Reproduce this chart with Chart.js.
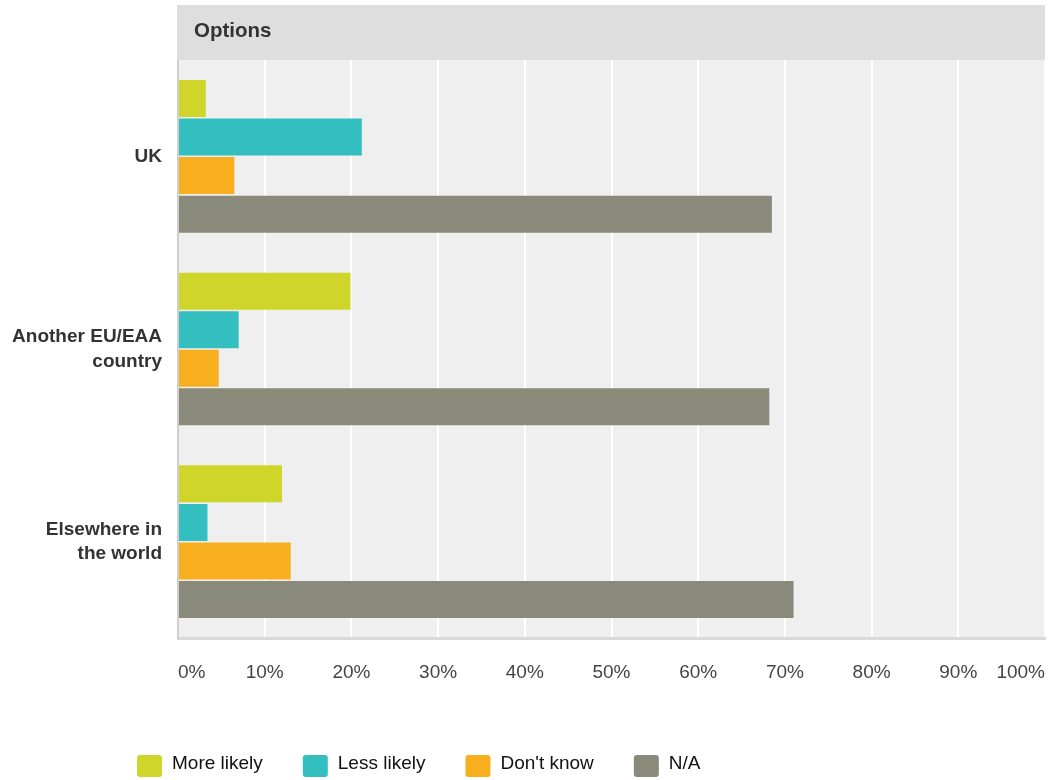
<!DOCTYPE html>
<html>
<head>
<meta charset="utf-8">
<script src="https://cdn.jsdelivr.net/npm/chart.js@4/dist/chart.umd.min.js"></script>
<style>
  html, body { margin: 0; padding: 0; background: #fff; }
  #wrap { width: 1050px; height: 780px; position: relative; }
</style>
</head>
<body>
<div id="wrap"><canvas id="c" width="1050" height="780"></canvas></div>
<script>
const categories = [["UK"], ["Another EU/EAA", "country"], ["Elsewhere in", "the world"]];
const seriesNames = ["More likely", "Less likely", "Don't know", "N/A"];
const moreLikely = [3.2, 19.9, 12.0];
const lessLikely = [21.2, 7.0, 3.4];
const dontKnow = [6.5, 4.7, 13.0];
const notApplicable = [68.5, 68.2, 71.0];
const seriesColors = ["#d0d52a", "#33bec0", "#f7af20", "#898a7a"];
const tickValues = [0, 10, 20, 30, 40, 50, 60, 70, 80, 90, 100];
const headerText = "Options";

const FONT = "'Liberation Sans', Arial, Helvetica, sans-serif";

const bgPlugin = {
  id: 'bgPlugin',
  beforeDraw(chart) {
    const { ctx, chartArea: a } = chart;
    ctx.save();
    ctx.fillStyle = '#efefef';
    ctx.fillRect(a.left, a.top, a.right - a.left, a.bottom - a.top);
    ctx.fillStyle = '#dedede';
    ctx.fillRect(a.left - 1, 5, a.right - a.left + 1, a.top - 5);
    ctx.fillStyle = '#333333';
    ctx.font = "bold 20.5px " + FONT;
    ctx.textBaseline = 'middle';
    ctx.textAlign = 'left';
    ctx.fillText(headerText, a.left + 16, 31);
    ctx.restore();
  },
  afterDraw(chart) {
    const { ctx } = chart;
    ctx.save();
    ctx.font = "19px " + FONT;
    ctx.textBaseline = 'middle';
    ctx.textAlign = 'left';
    let x = 137;
    const y = 755, bw = 25, bh = 22;
    chart.data.datasets.forEach((ds) => {
      ctx.fillStyle = ds.backgroundColor;
      ctx.beginPath();
      ctx.roundRect(x, y, bw, bh, 3);
      ctx.fill();
      ctx.fillStyle = '#111111';
      const tx = x + bw + 10;
      ctx.fillText(ds.label, tx, y + 9);
      x = tx + ctx.measureText(ds.label).width + 40;
    });
    ctx.restore();
  }
};

const datasets = [moreLikely, lessLikely, dontKnow, notApplicable].map((vals, i) => ({
  label: seriesNames[i],
  data: vals,
  backgroundColor: seriesColors[i],
  borderWidth: 0,
  categoryPercentage: 0.8,
  barPercentage: 0.96
}));

new Chart(document.getElementById('c'), {
  type: 'bar',
  data: { labels: categories, datasets },
  plugins: [bgPlugin],
  options: {
    indexAxis: 'y',
    responsive: false,
    animation: false,
    devicePixelRatio: 1,
    layout: { padding: { top: 60, right: 5, left: 0, bottom: 0 } },
    plugins: {
      legend: { display: false },
      tooltip: { enabled: false }
    },
    scales: {
      x: {
        min: 0,
        max: 100,
        afterFit(scale) { scale.height = 142; scale.paddingLeft = 0; scale.paddingRight = 0; },
        afterBuildTicks(scale) { scale.ticks = tickValues.map(v => ({ value: v })); },
        grid: { color: '#ffffff', lineWidth: 2, drawTicks: false },
        border: { display: true, color: '#dadada', width: 3 },
        ticks: {
          align: 'inner',
          padding: 23,
          color: '#444444',
          font: { family: FONT, size: 19 },
          callback: (v) => v + '%'
        }
      },
      y: {
        afterFit(scale) { scale.width = 178; scale.paddingTop = 0; scale.paddingBottom = 0; },
        grid: { display: false, drawTicks: false },
        border: { display: true, color: '#cfcfcf', width: 2 },
        ticks: {
          padding: 16,
          color: '#333333',
          font: { family: FONT, size: 19, weight: 'bold', lineHeight: 1.3 }
        }
      }
    }
  }
});
</script>
</body>
</html>
